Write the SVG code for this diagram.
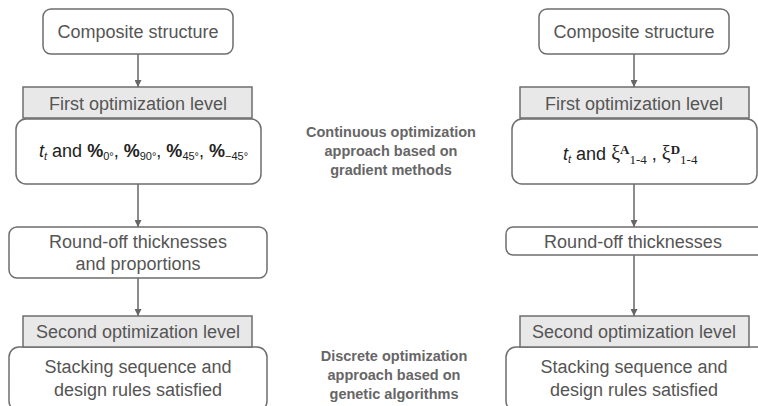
<svg xmlns="http://www.w3.org/2000/svg" width="758" height="406" viewBox="0 0 758 406">
<defs>
<marker id="ah" viewBox="0 0 10 10" refX="10" refY="5" markerWidth="7" markerHeight="7" markerUnits="userSpaceOnUse" orient="auto">
<path d="M0,0 L10,5 L0,10 z" fill="#666"/>
</marker>
<style>
.box{fill:#fff;stroke:#6e6e6e;stroke-width:1.5}
.hdr{fill:#e8e8e8;stroke:#6e6e6e;stroke-width:1.5}
.t{font-family:"Liberation Sans",Arial,sans-serif;font-size:18px;fill:#555;text-anchor:middle}
.m{font-family:"Liberation Sans",Arial,sans-serif;font-size:14.5px;font-weight:bold;fill:#666;text-anchor:middle}
.f{font-family:"Liberation Sans",Arial,sans-serif;font-size:18px;fill:#222}
.c{stroke:#666;stroke-width:1.5;fill:none;marker-end:url(#ah)}
</style>
</defs>
<rect width="758" height="406" fill="#fff"/>
<g id="connectors">
<line class="c" x1="138" y1="54" x2="138" y2="87"/>
<line class="c" x1="138" y1="184" x2="138" y2="227"/>
<line class="c" x1="138" y1="278" x2="138" y2="316"/>
<line class="c" x1="634" y1="54" x2="634" y2="87"/>
<line class="c" x1="634" y1="184" x2="634" y2="227"/>
<line class="c" x1="634" y1="255" x2="634" y2="316"/>
</g>
<g id="L-composite">
<rect class="box" x="43" y="9" width="190" height="45" rx="8"/>
<text class="t" x="138" y="38">Composite structure</text>
</g>
<g id="L-first">
<rect class="box" x="16" y="119" width="245" height="65" rx="10"/>
<rect class="hdr" x="23" y="87" width="229" height="31"/>
<text class="t" x="138" y="110">First optimization level</text>
<text class="f" x="39" y="157"><tspan font-style="italic">t</tspan><tspan font-style="italic" font-size="11" dy="3">t</tspan><tspan dy="-3"> and </tspan><tspan font-weight="bold">%</tspan><tspan font-size="11" dy="3">0°</tspan><tspan dy="-3">, </tspan><tspan font-weight="bold">%</tspan><tspan font-size="11" dy="3">90°</tspan><tspan dy="-3">, </tspan><tspan font-weight="bold">%</tspan><tspan font-size="11" dy="3">45°</tspan><tspan dy="-3">, </tspan><tspan font-weight="bold">%</tspan><tspan font-size="11" dy="3">−45°</tspan></text>
</g>
<g id="L-roundoff">
<rect class="box" x="9" y="227" width="258" height="51" rx="8"/>
<text class="t" x="138" y="248">Round-off thicknesses</text>
<text class="t" x="138" y="270">and proportions</text>
</g>
<g id="L-second">
<rect class="box" x="9" y="347" width="258" height="64" rx="10"/>
<rect class="hdr" x="23" y="316" width="229" height="31"/>
<text class="t" x="138" y="338">Second optimization level</text>
<text class="t" x="138" y="373">Stacking sequence and</text>
<text class="t" x="138" y="396">design rules satisfied</text>
</g>
<g id="M-continuous">
<text class="m" x="391" y="137">Continuous optimization</text>
<text class="m" x="391" y="156">approach based on</text>
<text class="m" x="391" y="175">gradient methods</text>
</g>
<g id="M-discrete">
<text class="m" x="394" y="361">Discrete optimization</text>
<text class="m" x="394" y="380">approach based on</text>
<text class="m" x="394" y="399">genetic algorithms</text>
</g>
<g id="R-composite">
<rect class="box" x="539" y="9" width="190" height="45" rx="8"/>
<text class="t" x="634" y="38">Composite structure</text>
</g>
<g id="R-first">
<rect class="box" x="512" y="119" width="245" height="65" rx="10"/>
<rect class="hdr" x="520" y="87" width="229" height="31"/>
<text class="t" x="634" y="110">First optimization level</text>
<text class="f" x="563" y="160"><tspan font-style="italic">t</tspan><tspan font-style="italic" font-size="11" dy="3">t</tspan><tspan dy="-3"> and </tspan><tspan font-family="Liberation Serif,serif" font-size="20">ξ</tspan><tspan font-family="Liberation Serif,serif" font-weight="bold" font-size="13" dy="-6">A</tspan><tspan font-family="Liberation Serif,serif" font-size="13" dy="10">1-4</tspan><tspan dy="-4"> , </tspan><tspan font-family="Liberation Serif,serif" font-size="20">ξ</tspan><tspan font-family="Liberation Serif,serif" font-weight="bold" font-size="13" dy="-6">D</tspan><tspan font-family="Liberation Serif,serif" font-size="13" dy="10">1-4</tspan></text>
</g>
<g id="R-roundoff">
<rect class="box" x="506" y="227" width="270" height="28" rx="7"/>
<text class="t" x="633" y="248">Round-off thicknesses</text>
</g>
<g id="R-second">
<rect class="box" x="506" y="347" width="270" height="64" rx="10"/>
<rect class="hdr" x="520" y="316" width="229" height="31"/>
<text class="t" x="634" y="338">Second optimization level</text>
<text class="t" x="634" y="373">Stacking sequence and</text>
<text class="t" x="634" y="396">design rules satisfied</text>
</g>
</svg>
